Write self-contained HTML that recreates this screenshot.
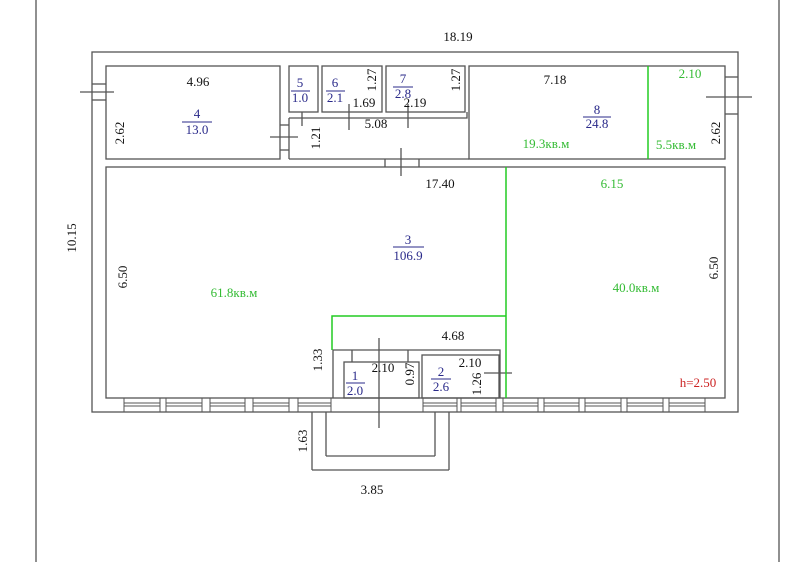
<!DOCTYPE html>
<html><head><meta charset="utf-8"><style>
body{margin:0;background:#fff}
svg{display:block;font-family:"Liberation Serif",serif}
</style></head><body>
<svg width="800" height="562" viewBox="0 0 800 562" xmlns="http://www.w3.org/2000/svg">
<g stroke="#555" fill="none" stroke-width="1.3">
<line x1="36" y1="0" x2="36" y2="562"/>
<line x1="779" y1="0" x2="779" y2="562"/>
<rect x="92" y="52" width="646" height="360"/>
<rect x="106" y="66" width="174" height="93"/>
<rect x="289" y="66" width="29" height="46"/>
<rect x="322" y="66" width="60" height="46"/>
<rect x="386" y="66" width="79" height="46"/>
<rect x="469" y="66" width="256" height="93"/>
<polyline points="289,118 467,118 467,112"/>
<line x1="289" y1="118" x2="289" y2="159"/>
<line x1="289" y1="159" x2="469" y2="159"/>
<line x1="92" y1="84" x2="106" y2="84"/><line x1="92" y1="100" x2="106" y2="100"/>
<line x1="80" y1="92" x2="114" y2="92"/>
<line x1="725" y1="77" x2="738" y2="77"/><line x1="725" y1="114" x2="738" y2="114"/>
<line x1="706" y1="97" x2="752" y2="97"/>
<line x1="270" y1="137" x2="298" y2="137"/>
<line x1="280" y1="150" x2="289" y2="150"/><line x1="280" y1="125" x2="289" y2="125"/>
<line x1="302" y1="112" x2="302" y2="126"/>
<line x1="349" y1="104" x2="349" y2="130"/>
<line x1="408" y1="104" x2="408" y2="128"/>
<line x1="401" y1="148" x2="401" y2="176"/>
<line x1="385" y1="159" x2="385" y2="167"/><line x1="419" y1="159" x2="419" y2="167"/>
<rect x="106" y="167" width="619" height="231"/>
<polyline points="333,398 333,350 500,350 500,398"/>
<line x1="352" y1="350" x2="352" y2="362"/>
<line x1="408" y1="350" x2="408" y2="362"/>
<rect x="344" y="362" width="75" height="36"/>
<rect x="422" y="355" width="77" height="43"/>
<line x1="379" y1="338" x2="379" y2="428"/>
<line x1="484" y1="373" x2="512" y2="373"/>
<line x1="312" y1="412" x2="312" y2="470"/><line x1="312" y1="470" x2="449" y2="470"/><line x1="449" y1="470" x2="449" y2="412"/>
<line x1="326" y1="412" x2="326" y2="456"/><line x1="326" y1="456" x2="435" y2="456"/><line x1="435" y1="456" x2="435" y2="412"/>
</g>
<g stroke="#555" fill="none" stroke-width="1">
<path d="M124 398v14M160 398v14M166 398v14M202 398v14M210 398v14M245 398v14M253 398v14M289 398v14M298 398v14M331 398v14M423 398v14M457 398v14M461 398v14M496 398v14M503 398v14M538 398v14M544 398v14M579 398v14M585 398v14M621 398v14M627 398v14M663 398v14M669 398v14M705 398v14"/>
<path d="M124 403h36M166 403h36M210 403h35M253 403h36M298 403h33M423 403h34M461 403h35M503 403h35M544 403h35M585 403h36M627 403h36M669 403h36"/>
<path d="M124 406h36M166 406h36M210 406h35M253 406h36M298 406h33M423 406h34M461 406h35M503 406h35M544 406h35M585 406h36M627 406h36M669 406h36"/>
</g>
<g stroke="#22cc22" fill="none" stroke-width="1.5">
<line x1="648" y1="66" x2="648" y2="159"/>
<line x1="506" y1="167" x2="506" y2="398"/>
<polyline points="332,350 332,316 506,316"/>
</g>
<g font-size="13" fill="#111" text-anchor="middle">
<text x="458" y="41">18.19</text>
<text x="198" y="86">4.96</text>
<text x="555" y="84">7.18</text>
<text x="376" y="128">5.08</text>
<text x="440" y="188">17.40</text>
<text x="453" y="340">4.68</text>
<text x="383" y="372">2.10</text>
<text x="470" y="367">2.10</text>
<text x="364" y="107">1.69</text>
<text x="415" y="107">2.19</text>
<text x="372" y="494">3.85</text>
<text transform="translate(124,133) rotate(-90)">2.62</text>
<text transform="translate(720,133) rotate(-90)">2.62</text>
<text transform="translate(76,238) rotate(-90)">10.15</text>
<text transform="translate(127,277) rotate(-90)">6.50</text>
<text transform="translate(718,268) rotate(-90)">6.50</text>
<text transform="translate(320,138) rotate(-90)">1.21</text>
<text transform="translate(376,80) rotate(-90)">1.27</text>
<text transform="translate(460,80) rotate(-90)">1.27</text>
<text transform="translate(322,360) rotate(-90)">1.33</text>
<text transform="translate(414,374) rotate(-90)">0.97</text>
<text transform="translate(481,384) rotate(-90)">1.26</text>
<text transform="translate(307,441) rotate(-90)">1.63</text>
</g>
<g font-size="13" fill="#2a2a8a" text-anchor="middle">
<text x="197" y="118">4</text><line x1="182" y1="122" x2="212" y2="122" stroke="#2a2a8a"/><text x="197" y="134">13.0</text>
<text x="300" y="87">5</text><line x1="291" y1="91" x2="310" y2="91" stroke="#2a2a8a"/><text x="300" y="102">1.0</text>
<text x="335" y="87">6</text><line x1="326" y1="91" x2="345" y2="91" stroke="#2a2a8a"/><text x="335" y="102">2.1</text>
<text x="403" y="83">7</text><line x1="393" y1="87" x2="413" y2="87" stroke="#2a2a8a"/><text x="403" y="98">2.8</text>
<text x="597" y="114">8</text><line x1="583" y1="117" x2="611" y2="117" stroke="#2a2a8a"/><text x="597" y="128">24.8</text>
<text x="408" y="244">3</text><line x1="393" y1="247" x2="424" y2="247" stroke="#2a2a8a"/><text x="408" y="260">106.9</text>
<text x="355" y="380">1</text><line x1="346" y1="383" x2="365" y2="383" stroke="#2a2a8a"/><text x="355" y="395">2.0</text>
<text x="441" y="376">2</text><line x1="431" y1="379" x2="451" y2="379" stroke="#2a2a8a"/><text x="441" y="391">2.6</text>
</g>
<g font-size="13" fill="#33bb33" text-anchor="middle">
<text x="690" y="78">2.10</text>
<text x="546" y="148">19.3кв.м</text>
<text x="676" y="149">5.5кв.м</text>
<text x="612" y="188">6.15</text>
<text x="234" y="297">61.8кв.м</text>
<text x="636" y="292">40.0кв.м</text>
</g>
<text x="698" y="387" font-size="13" fill="#cc2222" text-anchor="middle">h=2.50</text>
</svg>
</body></html>
